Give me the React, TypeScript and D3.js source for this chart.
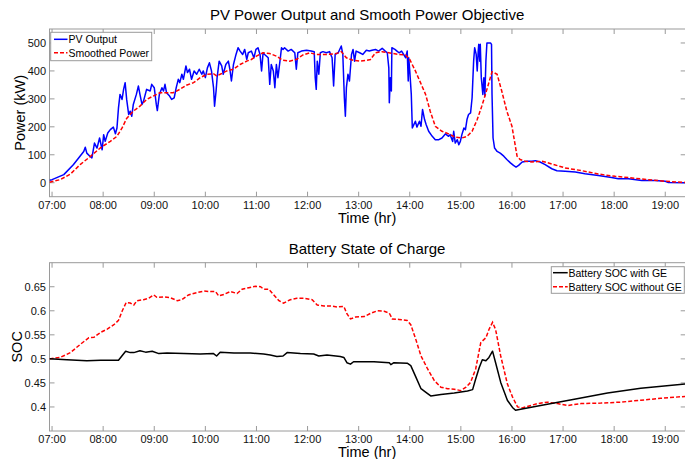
import React from "react";
import * as d3 from "d3";

// ---- Data (time in decimal hours) ----
const pvOutput: [number, number][] = [
  [6.95, 9], [7.0, 11], [7.23, 29], [7.42, 65], [7.62, 112], [7.65, 127], [7.68, 106], [7.74, 95],
  [7.78, 89], [7.83, 142], [7.88, 124], [7.93, 160], [7.98, 118], [8.01, 172], [8.04, 148],
  [8.09, 178], [8.14, 190], [8.2, 199], [8.24, 175], [8.27, 196], [8.3, 268], [8.33, 316],
  [8.37, 298], [8.4, 334], [8.43, 358], [8.46, 298], [8.5, 244], [8.53, 256], [8.56, 238],
  [8.59, 280], [8.65, 316], [8.69, 346], [8.72, 316], [8.76, 280], [8.79, 292], [8.85, 334],
  [8.92, 328], [8.95, 352], [9.0, 340], [9.04, 280], [9.06, 258], [9.1, 316], [9.15, 340],
  [9.18, 328], [9.21, 352], [9.24, 322], [9.3, 310], [9.34, 298], [9.39, 304], [9.43, 340],
  [9.47, 370], [9.5, 358], [9.54, 388], [9.57, 370], [9.62, 418], [9.65, 394], [9.69, 406],
  [9.73, 370], [9.78, 400], [9.83, 388], [9.88, 406], [9.93, 388], [9.96, 400], [10.0, 376],
  [10.04, 411], [10.08, 429], [10.12, 400], [10.16, 340], [10.18, 274], [10.21, 328],
  [10.23, 376], [10.27, 435], [10.32, 418], [10.35, 388], [10.4, 423], [10.45, 435],
  [10.48, 406], [10.51, 364], [10.55, 423], [10.6, 459], [10.64, 483], [10.68, 471],
  [10.73, 459], [10.77, 477], [10.81, 441], [10.84, 465], [10.9, 471], [10.95, 447],
  [10.99, 477], [11.03, 483], [11.07, 459], [11.1, 400], [11.13, 465], [11.16, 459],
  [11.23, 447], [11.26, 352], [11.29, 423], [11.33, 400], [11.36, 340], [11.39, 423],
  [11.42, 376], [11.46, 435], [11.49, 483], [11.52, 477], [11.55, 483], [11.62, 471],
  [11.68, 477], [11.75, 465], [11.78, 406], [11.81, 465], [11.88, 471], [11.98, 474],
  [12.07, 471], [12.13, 469], [12.15, 376], [12.17, 334], [12.19, 435], [12.22, 388],
  [12.25, 465], [12.3, 469], [12.37, 465], [12.43, 469], [12.48, 447], [12.51, 346],
  [12.54, 459], [12.6, 465], [12.66, 489], [12.69, 459], [12.72, 304], [12.74, 238],
  [12.76, 340], [12.79, 388], [12.82, 364], [12.86, 459], [12.89, 477], [12.92, 435],
  [12.95, 471], [13.02, 465], [13.08, 459], [13.15, 474], [13.21, 471], [13.26, 474],
  [13.33, 477], [13.39, 471], [13.46, 481], [13.52, 471], [13.56, 465], [13.59, 411],
  [13.6, 286], [13.62, 376], [13.64, 328], [13.65, 483], [13.71, 477], [13.75, 471],
  [13.79, 465], [13.84, 471], [13.88, 459], [13.92, 447], [13.95, 471], [13.97, 364],
  [13.98, 447], [14.0, 400], [14.03, 316], [14.05, 196], [14.08, 208], [14.11, 220],
  [14.14, 199], [14.19, 220], [14.22, 202], [14.25, 262], [14.29, 226], [14.32, 208],
  [14.37, 184], [14.44, 166], [14.5, 154], [14.57, 154], [14.63, 160], [14.7, 175],
  [14.76, 166], [14.79, 172], [14.84, 148], [14.86, 184], [14.89, 142], [14.93, 154],
  [14.96, 136], [14.99, 148], [15.02, 172], [15.06, 196], [15.09, 190], [15.12, 226],
  [15.15, 244], [15.19, 250], [15.22, 304], [15.25, 435], [15.27, 483], [15.3, 459],
  [15.32, 400], [15.34, 471], [15.35, 495], [15.37, 435], [15.38, 495], [15.4, 376],
  [15.43, 316], [15.45, 376], [15.47, 310], [15.49, 435], [15.51, 500], [15.58, 500],
  [15.6, 495], [15.61, 316], [15.63, 160], [15.66, 124], [15.71, 112], [15.77, 106],
  [15.84, 95], [15.9, 83], [15.97, 71], [16.03, 62], [16.08, 56], [16.13, 62], [16.2, 74],
  [16.29, 77], [16.39, 77], [16.46, 79], [16.55, 74], [16.65, 65], [16.78, 50], [16.88, 43],
  [17.04, 41], [17.24, 38], [17.43, 32], [17.69, 26], [17.95, 19], [18.08, 14], [18.28, 14],
  [18.54, 8], [18.8, 8], [19.0, 5], [19.06, 1], [19.4, 0],
];

const smoothedPower: [number, number][] = [
  [6.95, 2], [7.16, 11], [7.36, 31], [7.55, 65], [7.75, 94], [7.94, 124], [8.14, 148],
  [8.27, 166], [8.37, 196], [8.46, 230], [8.59, 256], [8.72, 274], [8.85, 298], [8.98, 310],
  [9.11, 322], [9.24, 322], [9.37, 322], [9.5, 334], [9.63, 349], [9.77, 358], [9.9, 376],
  [10.03, 388], [10.16, 390], [10.22, 382], [10.29, 388], [10.42, 400], [10.55, 406],
  [10.68, 423], [10.81, 435], [10.9, 441], [11.0, 453], [11.13, 465], [11.26, 462],
  [11.39, 453], [11.52, 438], [11.65, 435], [11.78, 441], [11.91, 457], [12.04, 465],
  [12.17, 459], [12.37, 459], [12.56, 462], [12.66, 469], [12.76, 447], [12.89, 438],
  [13.02, 435], [13.15, 438], [13.23, 441], [13.33, 465], [13.46, 469], [13.59, 465],
  [13.79, 459], [13.92, 457], [14.0, 441], [14.11, 400], [14.21, 358], [14.31, 316],
  [14.4, 256], [14.5, 202], [14.63, 184], [14.76, 175], [14.89, 163], [15.02, 160],
  [15.12, 166], [15.22, 184], [15.32, 226], [15.41, 274], [15.51, 334], [15.61, 397],
  [15.71, 388], [15.8, 328], [15.9, 256], [16.0, 202], [16.1, 95], [16.16, 83], [16.26, 77],
  [16.39, 74], [16.59, 77], [16.78, 67], [17.04, 53], [17.37, 43], [17.69, 31], [18.02, 23],
  [18.35, 17], [18.67, 11], [19.0, 5], [19.4, 1],
];

const socWithGE: [number, number][] = [
  [6.95, 0.5], [7.29, 0.498], [7.68, 0.496], [7.95, 0.497], [8.3, 0.497], [8.44, 0.516],
  [8.53, 0.513], [8.6, 0.513], [8.72, 0.517], [8.83, 0.514], [8.96, 0.516], [9.09, 0.511],
  [9.25, 0.512], [9.58, 0.511], [9.9, 0.51], [10.16, 0.511], [10.22, 0.506], [10.29, 0.514],
  [10.56, 0.512], [10.88, 0.512], [11.14, 0.51], [11.27, 0.508], [11.4, 0.505], [11.52, 0.506],
  [11.6, 0.513], [11.86, 0.511], [12.12, 0.51], [12.22, 0.506], [12.38, 0.508], [12.64, 0.505],
  [12.71, 0.503], [12.77, 0.492], [12.84, 0.489], [12.9, 0.494], [13.03, 0.494], [13.3, 0.494],
  [13.6, 0.492], [13.63, 0.488], [13.69, 0.492], [13.95, 0.491], [14.02, 0.486], [14.12, 0.462],
  [14.22, 0.438], [14.31, 0.431], [14.41, 0.423], [14.61, 0.426], [14.87, 0.429], [15.13, 0.433],
  [15.23, 0.436], [15.29, 0.458], [15.36, 0.482], [15.42, 0.498], [15.49, 0.496], [15.55, 0.503],
  [15.62, 0.516], [15.68, 0.492], [15.78, 0.451], [15.91, 0.414], [16.01, 0.399], [16.07, 0.393],
  [16.17, 0.395], [16.56, 0.403], [17.22, 0.416], [17.87, 0.429], [18.52, 0.439], [19.4, 0.448],
];

const socWithoutGE: [number, number][] = [
  [6.95, 0.5], [7.16, 0.503], [7.36, 0.513], [7.55, 0.53], [7.72, 0.544], [7.82, 0.545],
  [7.95, 0.555], [8.08, 0.562], [8.21, 0.571], [8.3, 0.58], [8.37, 0.599], [8.45, 0.617],
  [8.53, 0.616], [8.6, 0.612], [8.66, 0.621], [8.79, 0.623], [8.89, 0.626], [8.99, 0.633],
  [9.05, 0.628], [9.19, 0.629], [9.32, 0.627], [9.45, 0.621], [9.54, 0.623], [9.67, 0.633],
  [9.84, 0.638], [9.97, 0.641], [10.1, 0.64], [10.2, 0.64], [10.26, 0.631], [10.36, 0.634],
  [10.49, 0.64], [10.62, 0.636], [10.72, 0.645], [10.85, 0.648], [10.98, 0.651], [11.08, 0.65],
  [11.14, 0.645], [11.24, 0.645], [11.34, 0.633], [11.44, 0.621], [11.53, 0.616], [11.66, 0.623],
  [11.79, 0.626], [11.92, 0.626], [12.09, 0.623], [12.19, 0.612], [12.32, 0.61], [12.45, 0.61],
  [12.58, 0.608], [12.71, 0.609], [12.77, 0.594], [12.84, 0.583], [12.94, 0.587], [13.11, 0.588],
  [13.24, 0.595], [13.37, 0.6], [13.5, 0.599], [13.6, 0.595], [13.66, 0.583], [13.79, 0.582],
  [13.95, 0.58], [14.02, 0.571], [14.12, 0.54], [14.22, 0.506], [14.35, 0.479], [14.48, 0.455],
  [14.61, 0.441], [14.74, 0.438], [14.87, 0.437], [15.0, 0.434], [15.1, 0.441], [15.19, 0.451],
  [15.29, 0.479], [15.39, 0.534], [15.49, 0.544], [15.55, 0.561], [15.62, 0.576], [15.68, 0.561],
  [15.78, 0.506], [15.91, 0.448], [16.01, 0.421], [16.11, 0.4], [16.2, 0.398], [16.3, 0.401],
  [16.5, 0.407], [16.69, 0.41], [16.89, 0.407], [17.09, 0.403], [17.35, 0.407], [17.74, 0.408],
  [18.13, 0.41], [18.52, 0.414], [18.91, 0.418], [19.4, 0.422],
];

const hourTicks = [7, 8, 9, 10, 11, 12, 13, 14, 15, 16, 17, 18, 19];
const powerTicks = [0, 100, 200, 300, 400, 500];
const socTicks = [0.4, 0.45, 0.5, 0.55, 0.6, 0.65];
const socTickLabels = ["0.4", "0.45", "0.5", "0.55", "0.6", "0.65"];

// ---- Layout ----
const W = 685;
const H = 459;
const X0 = 49.5;
const X1 = 685.7;
const TOP = { y0: 29, y1: 196.7 };
const BOT = { y0: 262.7, y1: 431 };
const FONT = "'Liberation Sans', Arial, Helvetica, sans-serif";
const AXIS = "#9a9a9a";
const TICK = 5;
const TICK_FS = 11;
const LEG_FS = 10.5;
const TITLE_FS = 15;
const LABEL_FS = 14.5;

const x = d3.scaleLinear().domain([6.95, 19.4]).range([X0, X1]);
const yP = d3.scaleLinear().domain([-50, 550]).range([TOP.y1, TOP.y0]);
const yS = d3.scaleLinear().domain([0.35, 0.7]).range([BOT.y1, BOT.y0]);

const fmtHour = (h: number) => (h < 10 ? "0" + h : String(h)) + ":00";

function Frame({ y0, y1, yTicks, yScale, labels }: any) {
  return (
    <g>
      <rect x={X0} y={y0} width={X1 - X0} height={y1 - y0} fill="none" stroke={AXIS} strokeWidth={1} />
      {hourTicks.map((h) => (
        <g key={h}>
          <line x1={x(h)} x2={x(h)} y1={y1} y2={y1 - TICK} stroke={AXIS} />
          <line x1={x(h)} x2={x(h)} y1={y0} y2={y0 + TICK} stroke={AXIS} />
          <text x={x(h)} y={y1 + 12.2} textAnchor="middle" fontSize={TICK_FS} fill="#111">
            {fmtHour(h)}
          </text>
        </g>
      ))}
      {yTicks.map((v: number, i: number) => (
        <g key={v}>
          <line x1={X0} x2={X0 + TICK} y1={yScale(v)} y2={yScale(v)} stroke={AXIS} />
          <line x1={X1} x2={X1 - TICK} y1={yScale(v)} y2={yScale(v)} stroke={AXIS} />
          <text x={X0 - 3.5} y={yScale(v)} dy="0.36em" textAnchor="end" fontSize={TICK_FS} fill="#111">
            {labels[i]}
          </text>
        </g>
      ))}
    </g>
  );
}

export default function App() {
  const lineP = d3
    .line<[number, number]>()
    .x((d) => x(d[0]))
    .y((d) => yP(d[1]));
  const lineS = d3
    .line<[number, number]>()
    .x((d) => x(d[0]))
    .y((d) => yS(d[1]));
  const cx = (X0 + X1) / 2 - 0.5;

  return (
    <svg
      width={W}
      height={H}
      style={{ position: "absolute", left: 0, top: 0, background: "#fff" }}
      fontFamily={FONT}
    >
      <defs>
        <clipPath id="clipTop">
          <rect x={X0} y={TOP.y0} width={X1 - X0} height={TOP.y1 - TOP.y0} />
        </clipPath>
        <clipPath id="clipBot">
          <rect x={X0} y={BOT.y0} width={X1 - X0} height={BOT.y1 - BOT.y0} />
        </clipPath>
      </defs>
      <rect x={0} y={0} width={W} height={H} fill="#fff" />

      {/* ---- Top chart ---- */}
      <text x={cx} y={20} textAnchor="middle" fontSize={TITLE_FS} fill="#000">
        PV Power Output and Smooth Power Objective
      </text>
      <Frame y0={TOP.y0} y1={TOP.y1} yTicks={powerTicks} yScale={yP} labels={powerTicks.map(String)} />
      <g clipPath="url(#clipTop)">
        <path d={lineP(pvOutput) || ""} fill="none" stroke="#0000ff" strokeWidth={1.5} strokeLinejoin="round" />
        <path
          d={lineP(smoothedPower) || ""}
          fill="none"
          stroke="#ff0000"
          strokeWidth={1.5}
          strokeDasharray="4,2"
        />
      </g>
      <text x={cx} y={222.5} textAnchor="middle" fontSize={LABEL_FS} fill="#000">
        Time (hr)
      </text>
      <text transform={`translate(25,${(TOP.y0 + TOP.y1) / 2}) rotate(-90)`} textAnchor="middle" fontSize={LABEL_FS} fill="#000">
        Power (kW)
      </text>
      <g>
        <rect x={50.7} y={32.3} width={101} height={28.4} fill="#fff" stroke={AXIS} />
        <line x1={54} x2={67.5} y1={39.3} y2={39.3} stroke="#0000ff" strokeWidth={1.5} />
        <text x={68.5} y={43.2} fontSize={LEG_FS} fill="#000">PV Output</text>
        <line x1={54} x2={67.5} y1={52.7} y2={52.7} stroke="#ff0000" strokeWidth={1.5} strokeDasharray="4,2" />
        <text x={68.5} y={56.6} fontSize={LEG_FS} fill="#000">Smoothed Power</text>
      </g>

      {/* ---- Bottom chart ---- */}
      <text x={cx} y={254} textAnchor="middle" fontSize={TITLE_FS} fill="#000">
        Battery State of Charge
      </text>
      <Frame y0={BOT.y0} y1={BOT.y1} yTicks={socTicks} yScale={yS} labels={socTickLabels} />
      <g clipPath="url(#clipBot)">
        <path
          d={lineS(socWithoutGE) || ""}
          fill="none"
          stroke="#ff0000"
          strokeWidth={1.5}
          strokeDasharray="4,2"
        />
        <path d={lineS(socWithGE) || ""} fill="none" stroke="#000" strokeWidth={1.5} strokeLinejoin="round" />
      </g>
      <text x={cx} y={456.8} textAnchor="middle" fontSize={LABEL_FS} fill="#000">
        Time (hr)
      </text>
      <text transform={`translate(22,${(BOT.y0 + BOT.y1) / 2}) rotate(-90)`} textAnchor="middle" fontSize={LABEL_FS} fill="#000">
        SOC
      </text>
      <g>
        <rect x={551.3} y={266.7} width={133} height={26.6} fill="#fff" stroke={AXIS} />
        <line x1={553} x2={567.7} y1={272.7} y2={272.7} stroke="#000" strokeWidth={1.5} />
        <text x={568.5} y={276.6} fontSize={LEG_FS} fill="#000">Battery SOC with GE</text>
        <line x1={553} x2={567.7} y1={286.7} y2={286.7} stroke="#ff0000" strokeWidth={1.5} strokeDasharray="4,2" />
        <text x={568.5} y={290.6} fontSize={LEG_FS} fill="#000">Battery SOC without GE</text>
      </g>
    </svg>
  );
}
